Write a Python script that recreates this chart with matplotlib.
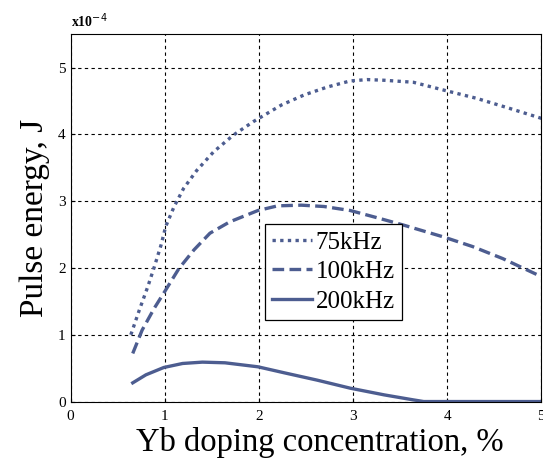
import numpy as np
import matplotlib
matplotlib.use("Agg")
import matplotlib.pyplot as plt
from matplotlib.ticker import FuncFormatter

# values, pulse energy in units of 1e-4 J
x_75 = [0.64, 0.73, 0.82, 0.89, 0.96, 1.01, 1.10, 1.20, 1.34, 1.52, 1.73, 1.94,
        2.24, 2.48, 2.73, 2.97, 3.15, 3.33, 3.64, 3.97, 4.31, 4.66, 5.0]
e_75 = [1.0, 1.37, 1.72, 2.02, 2.34, 2.62, 2.92, 3.19, 3.46, 3.74, 3.99, 4.19,
        4.44, 4.59, 4.71, 4.80, 4.82, 4.81, 4.78, 4.66, 4.54, 4.39, 4.24]

x_100 = [0.66, 0.76, 0.89, 1.01, 1.15, 1.31, 1.48, 1.69, 1.99, 2.20, 2.45, 2.69,
         2.97, 3.26, 3.54, 3.97, 4.27, 4.59, 5.0]
e_100 = [0.72, 1.07, 1.40, 1.67, 1.99, 2.27, 2.52, 2.69, 2.86, 2.93, 2.94, 2.92,
         2.86, 2.75, 2.64, 2.46, 2.32, 2.14, 1.87]

x_200 = [0.66, 0.80, 0.99, 1.19, 1.40, 1.64, 1.99, 2.27, 2.62, 2.97, 3.33, 3.64,
         3.75, 4.0, 5.0]
e_200 = [0.28, 0.40, 0.51, 0.57, 0.59, 0.58, 0.52, 0.43, 0.32, 0.20, 0.10, 0.025,
         0.0, 0.0, 0.0]

labels = ['75kHz', '100kHz', '200kHz']
scale = 1e-4
col = '#4d5d90'

fig = plt.figure(figsize=(5.43, 4.68), dpi=100)
ax = fig.add_axes([0.130, 0.142, 0.867, 0.785])

ax.plot(x_75, np.array(e_75) * scale, color=col, lw=2.4, ls=(0, (1, 1.3)), label=labels[0])
ax.plot(x_100, np.array(e_100) * scale, color=col, lw=2.4, ls=(0, (3.5, 1.6)), label=labels[1])
ax.plot(x_200, np.array(e_200) * scale, color=col, lw=2.4, ls='-', label=labels[2])

ax.set_xlim(0, 5)
ax.set_ylim(0, 5.5e-4)
ax.set_xticks([0, 1, 2, 3, 4, 5])
ax.set_yticks(np.arange(0, 6) * scale)
ax.yaxis.set_major_formatter(FuncFormatter(lambda v, p: f"{v / scale:g}"))
ax.tick_params(direction='in', labelsize=11, length=3)
ax.tick_params(axis='x', pad=6)
for t in ax.get_xticklabels() + ax.get_yticklabels():
    t.set_family('Liberation Serif')
ax.grid(True, color='black', ls=(0, (3, 3)), lw=0.8)

ax.text(0.0, 1.012, r'x10$^{-4}$', transform=ax.transAxes, fontsize=10,
        family='Liberation Serif', fontweight='bold', va='bottom')

ax.set_xlabel('Yb doping concentration, %', family='Liberation Serif', fontsize=23.5)
ax.xaxis.set_label_coords(0.53, -0.068)
ax.set_ylabel('Pulse energy, J', family='Liberation Serif', fontsize=24, labelpad=6)

leg = ax.legend(loc='upper left', bbox_to_anchor=(0.412, 0.484), prop={'family': 'Liberation Serif', 'size': 18},
                fancybox=False, framealpha=1, edgecolor='black', handlelength=1.6,
                handletextpad=0.15, borderpad=0.3, labelspacing=0.28, borderaxespad=0)
leg.get_frame().set_linewidth(0.9)

fig.savefig('out.png', dpi=100)
